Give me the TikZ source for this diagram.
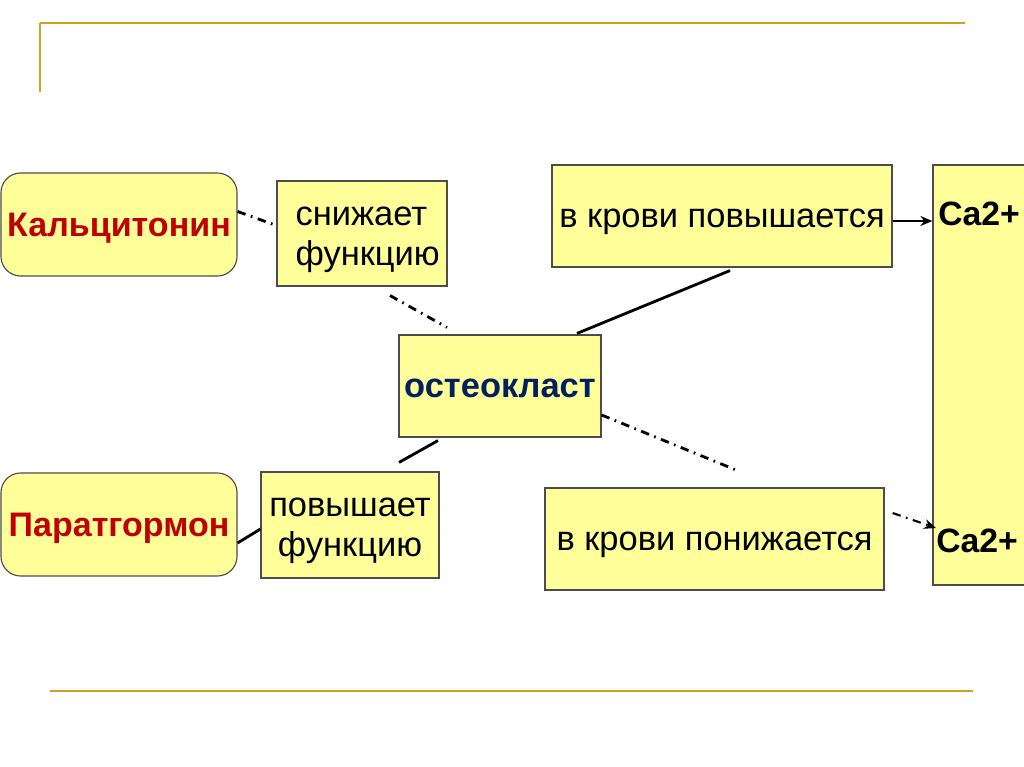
\documentclass[tikz,border=0pt]{standalone}
\usepackage{fontspec}
\setmainfont{Liberation Sans}
\usetikzlibrary{arrows.meta,positioning,calc}

\definecolor{boxyellow}{RGB}{255,255,153}
\definecolor{hormred}{RGB}{192,0,0}
\definecolor{cellnavy}{RGB}{0,32,96}
\definecolor{rulegold}{RGB}{208,160,32}

\begin{document}
\begin{tikzpicture}[x=0.025cm, y=-0.025cm,
    box/.style={draw=black!70, line width=0.8pt, fill=boxyellow, inner sep=0pt, align=center, text height=22.2pt, text depth=5.2pt, font=\fontsize{24.5}{28.5}\selectfont},
    twoline/.style={text height=50.7pt},
    hormone/.style={box, rounded corners=14pt, minimum width=5.9cm, minimum height=2.575cm, text=hormred, font=\fontsize{24.2}{28.5}\selectfont\bfseries},
    catext/.style={inner sep=0pt, anchor=west, font=\fontsize{24}{28}\selectfont\bfseries},
    link/.style={line width=2pt},
    dd/.style={line width=2pt, dash pattern=on 6pt off 4pt on 1.2pt off 4pt},
    arr/.style={-{Stealth[length=8.5pt,width=7pt]}, line width=1.5pt},
    rule/.style={draw=rulegold, line width=2pt}
]
\useasboundingbox (0,0) rectangle (1024,767);
\fill[white] (0,0) rectangle (1024,767);

% frame lines
\draw[rule] (40,23) -- (965,23);
\draw[rule, line width=1.5pt] (40,23) -- (40,92);
\draw[rule] (50,691) -- (973,691);

% hormones and their action
\node[hormone] (kal) at (119,224.5) {Кальцитонин};
\node[hormone] (par) at (119,524.5) {Паратгормон};
\node[box, twoline, minimum width=4.25cm, minimum height=2.625cm, align=left] (snizh) at (362,233.5) {\hspace*{8pt}снижает\\\hspace*{8pt}функцию};
\node[box, twoline, minimum width=4.45cm, minimum height=2.65cm] (povysh) at (350,525) {повышает\\функцию};

% the cell
\node[box, minimum width=5.05cm, minimum height=2.55cm, text=cellnavy, font=\fontsize{24.5}{28.5}\selectfont\bfseries] (osteo) at (500,386) {остеокласт};

% blood level
\node[box, minimum width=8.5cm, minimum height=2.55cm] (up) at (722,216) {в крови повышается};
\node[box, minimum width=8.475cm, minimum height=2.55cm] (down) at (714.5,539) {в крови понижается};
\node[box, minimum width=2.675cm, minimum height=10.5cm] (cabox) at (986.5,375) {};
\node[catext] (catop) at (938,214) {Ca2+};
\node[catext] (cabot) at (936,541) {Ca2+};

\draw[dd] ($(kal.east)+(0,-13)$) -- ($(snizh.west)+(0,-8)$);
\draw[dd] ($(snizh.south)+(28,9)$) -- ($(osteo.north)+(-53,-7)$);
\draw[link] ($(par.east)+(0,18.5)$) -- ($(povysh.west)+(0,4)$);
\draw[link] ($(povysh.north)+(49,-9)$) -- ($(osteo.south)+(-62,3)$);
\draw[link] ($(osteo.north)+(77,-1)$) -- ($(up.south)+(8,3)$);
\draw[dd] ($(osteo.east)+(0,29)$) -- ($(down.north)+(25,-16)$);
\draw[arr] ($(up.east)+(0,5)$) -- ($(up.east -| cabox.west)+(0,5)$);
\draw[arr, dash pattern=on 6pt off 4pt on 1.2pt off 4pt] ($(down.east)+(8,-26)$) -- ($(cabot.west)+(0,-13)$);
\end{tikzpicture}
\end{document}
